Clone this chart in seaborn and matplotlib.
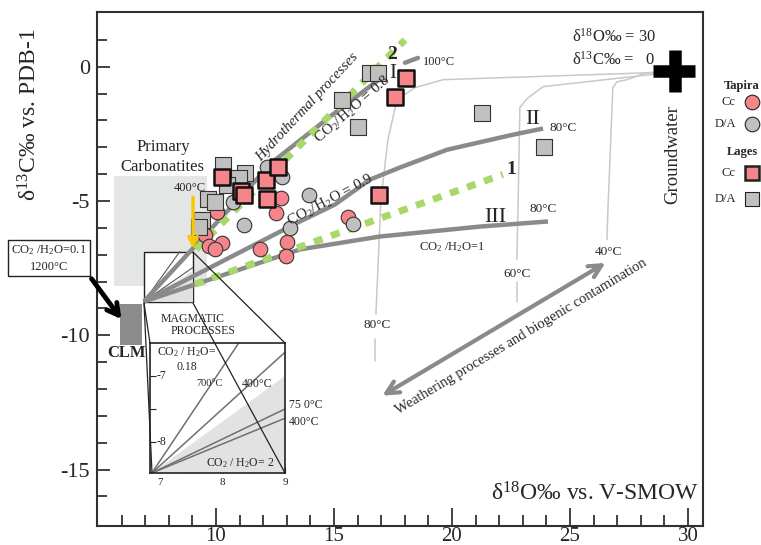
import numpy as np
import pandas as pd
import matplotlib.pyplot as plt
import seaborn as sns
from matplotlib.patches import Rectangle, Polygon
from matplotlib.lines import Line2D

W, H = 761, 545

# --- sample data (d18O V-SMOW, d13C PDB) ---
tapira_cc_x = [10.04, 12.75, 12.54, 9.53, 9.70, 10.25, 9.96, 11.86, 13.01, 12.97, 15.59]
tapira_cc_y = [-5.39, -4.87, -5.43, -6.25, -6.69, -6.58, -6.80, -6.77, -6.54, -7.03, -5.58]
tapira_da_x = [10.72, 12.16, 12.80, 11.19, 13.14, 13.94, 15.81]
tapira_da_y = [-5.02, -3.75, -4.09, -5.91, -6.02, -4.76, -5.84]
lages_da_x = [10.30, 11.23, 10.97, 10.47, 9.66, 9.96, 9.41, 9.28, 15.34, 16.02, 16.53, 16.86, 21.27, 23.90]
lages_da_y = [-3.64, -3.94, -4.16, -4.39, -4.94, -5.02, -5.69, -5.95, -1.23, -2.23, -0.22, -0.22, -1.71, -2.97]
lages_cc_x = [10.25, 11.06, 11.19, 12.12, 12.63, 12.16, 16.91, 17.58, 18.05]
lages_cc_y = [-4.09, -4.61, -4.76, -4.20, -3.75, -4.94, -4.76, -1.12, -0.41]

# model trends from the magmatic source point
trend_I_x = [6.95, 12.42, 14.83, 16.95]
trend_I_y = [-8.74, -3.53, -1.86, -0.45]
trend_II_x = [6.95, 13.56, 15.04, 16.53, 17.80, 19.79, 22.58, 23.86]
trend_II_y = [-8.74, -5.76, -5.13, -4.20, -3.75, -3.09, -2.53, -2.30]
trend_III_x = [6.95, 13.56, 16.95, 21.19, 24.07]
trend_III_y = [-8.74, -6.80, -6.32, -5.95, -5.76]
green_1_x = [9.11, 22.16]
green_1_y = [-8.10, -4.01]
green_2_x = [9.15, 18.01]
green_2_y = [-6.80, 1.00]

# mixing curves towards groundwater
gw_A_x = [29.45, 19.62, 18.43, 17.67, 17.29, 16.99, 16.78]
gw_A_y = [-0.19, -0.48, -0.78, -1.23, -2.71, -4.94, -9.22]
gw_B_x = [29.45, 23.86, 23.18, 22.88, 22.80, 22.75]
gw_B_y = [-0.19, -0.74, -1.19, -1.52, -5.32, -7.17]
gw_C_x = [29.45, 28.26, 27.42, 26.99, 26.82, 26.61, 26.57]
gw_C_y = [-0.19, -0.22, -0.48, -0.56, -0.78, -5.32, -6.43]

# inset (zoom on magmatic processes)
inset_origin = (6.87, -8.47)
inset_ends_x = [8.26, 9.0, 9.0, 9.0]
inset_ends_y = [-6.5, -6.64, -7.5, -7.64]

RED = "#f5858a"
GREY = "#c0c0c0"
LINE = "#8a8a8a"
GREEN = "#a8d86a"

sns.set_style("ticks")
plt.rcParams["font.family"] = ["Liberation Serif", "DejaVu Serif"]
plt.rcParams["mathtext.fontset"] = "custom"
plt.rcParams["mathtext.rm"] = "Liberation Serif"
plt.rcParams["mathtext.it"] = "Liberation Serif:italic"
plt.rcParams["mathtext.bf"] = "Liberation Serif:bold"
plt.rcParams["axes.unicode_minus"] = False


def fxy(px, py):
    return px / W, 1 - py / H


fig = plt.figure(figsize=(W / 100, H / 100), dpi=100)
ax = fig.add_axes([97 / W, 19 / H, 606 / W, 514 / H])

# background fields
ax.add_patch(Rectangle((5.68, -8.18), 3.94, 4.13, fc="#e4e5e5", ec="none", zorder=1))
ax.add_patch(Rectangle((5.93, -10.37), 0.93, 1.52, fc="#8c8c8c", ec="none", zorder=1))
ax.add_patch(Rectangle((6.95, -8.77), 2.08, 1.89, fc="white", ec="#222222", lw=1, zorder=2))
ax.add_patch(Polygon([(6.95, -8.74), (9.03, -7.6), (9.03, -8.77)], closed=True,
                     fc="#e0e0e0", ec="none", zorder=2))
ax.plot([6.95, 8.47], [-8.74, -6.88], color="#555555", lw=0.8, zorder=2.5)
ax.plot([6.95, 9.03], [-8.74, -7.47], color="#555555", lw=0.8, zorder=2.5)

# groundwater mixing curves
for gx, gy in [(gw_A_x, gw_A_y), (gw_B_x, gw_B_y), (gw_C_x, gw_C_y)]:
    ax.plot(gx, gy, color="#c8c8c8", lw=1.1, zorder=2.5)
ax.plot([16.74, 16.74], [-10.15, -10.97], color="#c8c8c8", lw=1.1, zorder=2.5)
ax.plot([22.75, 22.75], [-8.03, -8.77], color="#c8c8c8", lw=1.1, zorder=2.5)

# CO2/H2O trends
for tx, ty in [(trend_I_x, trend_I_y), (trend_II_x, trend_II_y), (trend_III_x, trend_III_y)]:
    ax.plot(tx, ty, color=LINE, lw=3.2, zorder=3, solid_capstyle="butt")
ax.plot([18.01, 18.56], [0.15, 0.33], color=LINE, lw=3.2, zorder=3)
for gx, gy in [(green_1_x, green_1_y), (green_2_x, green_2_y)]:
    ax.plot(gx, gy, color=GREEN, lw=5, dashes=(1.3, 1.3), zorder=4)

# samples
sns.scatterplot(x=tapira_cc_x, y=tapira_cc_y, ax=ax, marker="o", s=110, color=RED,
                edgecolor="#333333", linewidth=0.8, zorder=5, legend=False)
sns.scatterplot(x=tapira_da_x, y=tapira_da_y, ax=ax, marker="o", s=110, color=GREY,
                edgecolor="#333333", linewidth=0.8, zorder=5, legend=False)
sns.scatterplot(x=lages_da_x, y=lages_da_y, ax=ax, marker="s", s=120, color=GREY,
                edgecolor="#333333", linewidth=0.8, zorder=5, legend=False)
sns.scatterplot(x=lages_cc_x, y=lages_cc_y, ax=ax, marker="s", s=120, color=RED,
                edgecolor="#111111", linewidth=1.8, zorder=5, legend=False)

# groundwater end-member
ax.plot([28.52, 30.30], [-0.15, -0.15], color="black", lw=9, solid_capstyle="butt", zorder=6)
ax.plot([29.45, 29.45], [0.63, -0.93], color="black", lw=9, solid_capstyle="butt", zorder=6)

# arrows
ax.annotate("", xy=(16.95, -12.30), xytext=(26.61, -7.25),
            arrowprops=dict(arrowstyle="<->,head_length=0.9,head_width=0.45", color=LINE, lw=3))
ax.annotate("", xy=(9.03, -6.88), xytext=(9.03, -4.76), zorder=6,
            arrowprops=dict(arrowstyle="->,head_length=0.6,head_width=0.3", color="#f5c800", lw=2.5))
ax.annotate("", xy=(6.06, -9.48), xytext=(4.66, -7.81), annotation_clip=False,
            arrowprops=dict(arrowstyle="->,head_length=0.8,head_width=0.45", color="black", lw=3.5))

# texts
ax.text(7.75, -2.97, "Primary", fontsize=12, ha="center", va="center", zorder=7)
ax.text(7.75, -3.75, "Carbonatites", fontsize=12, ha="center", va="center", zorder=7)
ax.text(8.90, -4.50, "400°C", fontsize=9, ha="center", va="center", zorder=7)
ax.text(6.23, -10.67, "CLM", fontsize=12, fontweight="bold", ha="center", va="center")
ax.text(9.03, -9.41, "MAGMATIC", fontsize=8.5, ha="center", va="center", zorder=7,
        bbox=dict(fc="white", ec="none", pad=0.5))
ax.text(9.45, -9.85, "PROCESSES", fontsize=8.5, ha="center", va="center", zorder=7,
        bbox=dict(fc="white", ec="none", pad=0.5))
ax.text(13.86, -1.52, "Hydrothermal processes", fontsize=10.5, style="italic", rotation=47,
        ha="center", va="center", zorder=7)
ax.text(15.81, -1.60, "CO$_2$/H$_2$O = 0.8", fontsize=11, rotation=41, ha="center", va="center", zorder=7)
ax.text(14.87, -4.98, "CO$_2$/H$_2$O = 0.9", fontsize=11, rotation=28, ha="center", va="center", zorder=7)
ax.text(20.0, -6.73, "CO$_2$ /H$_2$O=1", fontsize=9, ha="center", va="center", zorder=7)
ax.text(17.50, -0.26, "I", fontsize=15, ha="center", va="center", zorder=7)
ax.text(17.46, 0.45, "2", fontsize=14, fontweight="bold", ha="center", va="center", zorder=7)
ax.text(22.50, -3.83, "1", fontsize=14, fontweight="bold", ha="center", va="center", zorder=7)
ax.text(23.43, -1.97, "II", fontsize=16, ha="center", va="center", zorder=7)
ax.text(21.82, -5.61, "III", fontsize=16, ha="center", va="center", zorder=7)
ax.text(18.77, 0.19, "100°C", fontsize=9, ha="left", va="center")
ax.text(24.15, -2.27, "80°C", fontsize=9.5, ha="left", va="center")
ax.text(23.86, -5.28, "80°C", fontsize=9.5, ha="center", va="center")
ax.text(16.82, -9.63, "80°C", fontsize=9.5, ha="center", va="center")
ax.text(22.75, -7.70, "60°C", fontsize=9.5, ha="center", va="center")
ax.text(26.65, -6.88, "40°C", fontsize=9.5, ha="center", va="center")
ax.text(22.92, -10.04, "Weathering processes and biogenic contamination", fontsize=10.5,
        rotation=31, ha="center", va="center")
ax.text(28.64, 1.12, "δ$^{18}$O‰ = 30", fontsize=12, ha="right", va="center")
ax.text(28.64, 0.26, "δ$^{13}$C‰ =   0", fontsize=12, ha="right", va="center")
ax.text(29.36, -3.27, "Groundwater", fontsize=13.5, rotation=90, ha="center", va="center")
ax.text(26.06, -15.91, "δ$^{18}$O‰ vs. V-SMOW", fontsize=17, ha="center", va="center")

# axes
ax.set_xlim(4.96, 30.64)
ax.set_ylim(-17.10, 2.04)
ax.set_xticks([10, 15, 20, 25, 30])
ax.set_xticklabels(["10", "15", "20", "25", "30"])
ax.set_xticks(np.arange(6, 31), minor=True)
ax.set_yticks([0, -5, -10, -15])
ax.set_yticklabels(["0", "-5", "-10", "-15"])
ax.set_yticks(np.arange(1, -17, -1), minor=True)
ax.tick_params(which="both", direction="in", labelsize=16, color="#222222", width=1.2)
ax.tick_params(axis="x", which="major", length=13, pad=1, labelsize=15)
ax.tick_params(axis="x", which="minor", length=8)
ax.tick_params(axis="y", which="major", length=9, pad=5)
ax.tick_params(axis="y", which="minor", length=7)
for sp in ax.spines.values():
    sp.set_linewidth(1.5)
    sp.set_color("#303030")
    sp.set_visible(True)

fig.text(*fxy(30, 115), "δ$^{13}$C‰ vs. PDB-1", fontsize=17, rotation=90, ha="center", va="center")

# boxed source label
fig.patches.append(Rectangle(fxy(8, 276), 82 / W, 36 / H, transform=fig.transFigure,
                             fill=False, ec="#222222", lw=1))
fig.text(*fxy(49, 250), "CO$_2$ /H$_2$O=0.1", fontsize=9, ha="center", va="center")
fig.text(*fxy(49, 267), "1200°C", fontsize=9, ha="center", va="center")

# inset
axin = fig.add_axes([150 / W, 1 - 473 / H, 135 / W, 130 / H])
axin.set_xlim(6.84, 9.0)
axin.set_ylim(-8.47, -6.5)
axin.add_patch(Polygon([inset_origin, (9.0, -7.0), (9.0, -8.47)], closed=True, fc="#e2e2e2", ec="none"))
for ex, ey in zip(inset_ends_x, inset_ends_y):
    axin.plot([inset_origin[0], ex], [inset_origin[1], ey], color="#707070", lw=1.1)
axin.set_xticks([7, 8, 9])
axin.set_xticklabels(["7", "8", "9"])
axin.set_xticks([7.5, 8.5], minor=True)
axin.set_yticks([-7, -7.5, -8])
axin.set_yticklabels([])
axin.tick_params(which="both", direction="in", labelsize=8, length=4, width=0.8)
for sp in axin.spines.values():
    sp.set_linewidth(1.2)
    sp.set_color("#222222")
axin.text(6.95, -7.0, "-7", fontsize=8.5, ha="left", va="center")
axin.text(6.95, -8.0, "-8", fontsize=8.5, ha="left", va="center")
axin.text(7.43, -6.64, "CO$_2$ / H$_2$O=", fontsize=8.5, ha="center", va="center")
axin.text(7.43, -6.87, "0.18", fontsize=8.5, ha="center", va="center")
axin.text(7.80, -7.12, "700°C", fontsize=7.5, ha="center", va="center")
axin.text(8.55, -7.12, "400°C", fontsize=8.5, ha="center", va="center")
axin.text(8.28, -8.32, "CO$_2$ / H$_2$O= 2", fontsize=8.5, ha="center", va="center")
axin.text(9.06, -7.44, "75 0°C", fontsize=8.5, ha="left", va="center", clip_on=False)
axin.text(9.06, -7.70, "400°C", fontsize=8.5, ha="left", va="center", clip_on=False)

# connector lines between the small box and the inset
for (x0, y0), (x1, y1) in [((144, 303), (150, 343)), ((144, 303), (152, 473)),
                           ((193, 252), (285, 343)), ((193, 303), (285, 473))]:
    p0, p1 = fxy(x0, y0), fxy(x1, y1)
    fig.add_artist(Line2D([p0[0], p1[0]], [p0[1], p1[1]], transform=fig.transFigure,
                          color="#222222", lw=0.9, zorder=1.5))

# legend
leg_items = [("Tapira", None, None, None, 86), ("Cc", "o", RED, 0.8, 102), ("D/A", "o", GREY, 0.8, 124),
             ("Lages", None, None, None, 152), ("Cc", "s", RED, 1.8, 173), ("D/A", "s", GREY, 0.8, 199)]
for label, mk, col, lw, py in leg_items:
    if mk is None:
        fig.text(*fxy(742, py), label, fontsize=9, fontweight="bold", ha="center", va="center")
    else:
        fig.text(*fxy(736, py), label, fontsize=9, ha="right", va="center")
        mx, my = fxy(752, py)
        fig.add_artist(Line2D([mx], [my], transform=fig.transFigure, marker=mk, markersize=10.5,
                              markerfacecolor=col, markeredgecolor="#222222", markeredgewidth=lw,
                              linestyle="none"))

fig.savefig("out.png", dpi=100)
